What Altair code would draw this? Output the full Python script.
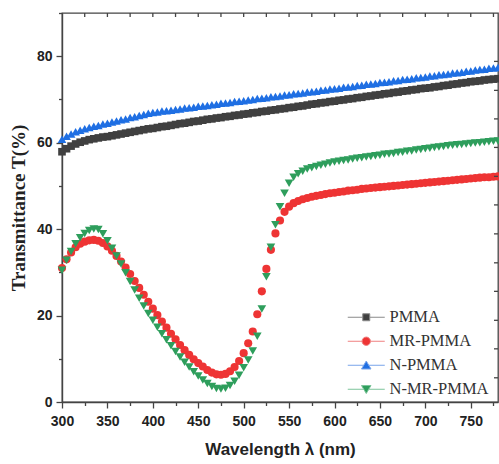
import altair as alt
import pandas as pd

# ---------------- data ----------------
WAVELENGTH = list(range(300, 785, 5))  # nm

PMMA = [57.9, 58.6, 59.2, 59.7, 60.1, 60.4, 60.7, 60.9, 61.1, 61.3,
        61.4, 61.6, 61.8, 62.0, 62.2, 62.4, 62.6, 62.8, 63.0, 63.2,
        63.3, 63.5, 63.7, 63.8, 64.0, 64.2, 64.4, 64.5, 64.7, 64.9,
        65.0, 65.2, 65.4, 65.5, 65.7, 65.8, 66.0, 66.1, 66.3, 66.4,
        66.6, 66.7, 66.9, 67.0, 67.2, 67.3, 67.5, 67.6, 67.8, 67.9,
        68.1, 68.2, 68.4, 68.5, 68.7, 68.9, 69.0, 69.2, 69.3, 69.5,
        69.6, 69.8, 69.9, 70.1, 70.2, 70.4, 70.5, 70.7, 70.8, 71.0,
        71.1, 71.3, 71.4, 71.6, 71.7, 71.9, 72.0, 72.2, 72.3, 72.5,
        72.6, 72.7, 72.9, 73.0, 73.2, 73.3, 73.5, 73.6, 73.8, 73.9,
        74.1, 74.2, 74.3, 74.5, 74.6, 74.7, 74.8]

MR_PMMA = [31.0, 33.0, 34.6, 35.8, 36.6, 37.1, 37.4, 37.5, 37.3, 36.8,
           36.0, 35.0, 33.8, 32.5, 31.1, 29.6, 28.0, 26.4, 24.8, 23.2,
           21.6, 20.1, 18.6, 17.2, 15.8, 14.5, 13.2, 12.0, 10.9, 9.9,
           9.0, 8.2, 7.4, 6.8, 6.4, 6.3, 6.5, 7.1, 8.1, 9.5,
           11.3, 13.6, 16.3, 20.3, 25.6, 30.8, 35.2, 39.0, 42.0, 44.0,
           45.2, 46.0, 46.5, 46.9, 47.2, 47.5, 47.7, 47.9, 48.1, 48.3,
           48.4, 48.6, 48.7, 48.9, 49.0, 49.1, 49.3, 49.4, 49.5, 49.6,
           49.7, 49.8, 49.9, 50.0, 50.1, 50.2, 50.3, 50.4, 50.5, 50.6,
           50.7, 50.8, 50.9, 51.0, 51.1, 51.2, 51.3, 51.4, 51.5, 51.6,
           51.7, 51.8, 51.9, 52.0, 52.0, 52.1, 52.2]

N_PMMA = [60.8, 61.5, 62.0, 62.5, 62.9, 63.2, 63.5, 63.8, 64.0, 64.3,
          64.5, 64.8, 65.0, 65.3, 65.5, 65.8, 66.0, 66.3, 66.5, 66.8,
          67.0, 67.1, 67.3, 67.4, 67.5, 67.7, 67.8, 68.0, 68.1, 68.2,
          68.4, 68.5, 68.6, 68.8, 68.9, 69.1, 69.2, 69.3, 69.5, 69.6,
          69.7, 69.9, 70.0, 70.2, 70.3, 70.4, 70.6, 70.7, 70.8, 71.0,
          71.1, 71.3, 71.4, 71.5, 71.7, 71.8, 71.9, 72.1, 72.2, 72.4,
          72.5, 72.6, 72.8, 72.9, 73.0, 73.2, 73.3, 73.5, 73.6, 73.7,
          73.9, 74.0, 74.1, 74.3, 74.4, 74.6, 74.7, 74.8, 75.0, 75.1,
          75.2, 75.4, 75.5, 75.7, 75.8, 75.9, 76.1, 76.2, 76.3, 76.5,
          76.6, 76.8, 76.9, 77.0, 77.2, 77.3, 77.4]

N_MR_PMMA = [30.5, 32.8, 34.8, 36.6, 38.0, 39.0, 39.7, 40.0, 39.9, 38.9,
             37.3, 35.6, 33.8, 31.9, 29.9, 27.9, 25.9, 24.0, 22.2, 20.5,
             18.9, 17.3, 15.8, 14.4, 13.0, 11.7, 10.4, 9.2, 8.1, 7.0,
             6.0, 5.1, 4.3, 3.6, 3.1, 3.0, 3.2, 3.8, 4.8, 6.2,
             7.9, 9.7, 11.8, 15.2, 21.5, 29.0, 35.8, 41.0, 45.2, 48.3,
             50.6, 52.0, 52.8, 53.4, 53.9, 54.2, 54.5, 54.8, 55.0, 55.3,
             55.5, 55.7, 55.9, 56.0, 56.2, 56.4, 56.5, 56.7, 56.8, 57.0,
             57.1, 57.3, 57.4, 57.5, 57.7, 57.8, 58.0, 58.1, 58.3, 58.4,
             58.6, 58.7, 58.9, 59.0, 59.1, 59.3, 59.4, 59.5, 59.6, 59.7,
             59.8, 59.9, 60.0, 60.1, 60.2, 60.3, 60.4]

SERIES = ["PMMA", "MR-PMMA", "N-PMMA", "N-MR-PMMA"]
VALUES = [PMMA, MR_PMMA, N_PMMA, N_MR_PMMA]

X_TICKS = list(range(300, 776, 25))
Y_TICKS = list(range(0, 91, 10))
TOP_TICKS = list(range(325, 776, 25))
RIGHT_TICKS = [78.8, 72.1, 65.5, 58.9, 52.2, 45.6, 38.9, 32.2, 25.6, 18.9, 12.3, 5.6]

# ---------------- styling ----------------
COLORS = ["#404040", "#ee3434", "#1f6fe3", "#2e9e5c"]
LEGEND_STROKES = ["#8a8a8a", "#f08080", "#78a4ea", "#7cc49a"]
SHAPES = ["square", "circle", "triangle-up", "triangle-down"]
SIZES = [58, 66, 75, 75]
LEGEND_PATHS = [
    "M-3.7,0H-0.7M0.7,0H3.7M-0.7,-0.7H0.7V0.7H-0.7Z",
    "M-3.7,0H-0.84M0.84,0H3.7M-0.84,0A0.84,0.84 0 1,0 0.84,0A0.84,0.84 0 1,0 -0.84,0Z",
    "M-3.7,0H-0.5M0.5,0H3.7M0,-0.85L0.95,0.75H-0.95Z",
    "M-3.7,0H-0.5M0.5,0H3.7M0,0.85L0.95,-0.75H-0.95Z",
]
FRAME = "#444444"

W, H = 436, 389

rows = []
for s, vals in zip(SERIES, VALUES):
    for w, v in zip(WAVELENGTH, vals):
        rows.append({"wl": w, "T": v, "series": s})
df = pd.DataFrame(rows)

top_df = pd.DataFrame({"wl": TOP_TICKS})
right_df = pd.DataFrame({"T": RIGHT_TICKS})

xs = alt.Scale(domain=[300, 780], nice=False, zero=False)
ys = alt.Scale(domain=[0, 90], nice=False, zero=False)

x_axis = alt.Axis(
    orient="bottom", values=X_TICKS, title="Wavelength λ (nm)",
    labelExpr="datum.value % 50 === 0 ? datum.label : ''",
    tickSize={"condition": {"test": "datum.value % 50 === 0", "value": 6}, "value": 3.5},
    labelPadding=6, labelFlush=False, labelOverlap=False,
    titleFont="Liberation Sans", titleFontSize=17, titleFontWeight="bold",
    titlePadding=13,
)
y_axis = alt.Axis(
    orient="left", values=Y_TICKS, title="Transmittance T(%)",
    labelExpr="datum.value % 20 === 0 ? datum.label : ''",
    tickSize={"condition": {"test": "datum.value % 20 === 0", "value": 6}, "value": 3.5},
    labelPadding=4, labelFlush=False, labelOverlap=False,
    titleFont="Liberation Serif", titleFontSize=19, titleFontWeight="bold",
    titlePadding=8,
)

layers = []
for i, (s, col, shp, sz) in enumerate(zip(SERIES, COLORS, SHAPES, SIZES)):
    layers.append(
        alt.Chart(df[df["series"] == s])
        .mark_point(shape=shp, filled=True, size=sz, opacity=1, color=col)
        .encode(
            x=alt.X("wl:Q", scale=xs, axis=x_axis if i == 0 else None),
            y=alt.Y("T:Q", scale=ys, axis=y_axis if i == 0 else None),
        )
    )

leg = alt.Legend(
    title=None, orient="none", legendX=296, legendY=296,
    symbolSize=100, symbolStrokeWidth=1, symbolOpacity=1,
    labelFont="Liberation Serif", labelFontSize=16.5, labelFontWeight="normal",
    labelColor="#333333", labelOffset=15, rowPadding=7, padding=0,
)
legend_layer = (
    alt.Chart(df)
    .mark_point(filled=True, opacity=1, size=0)
    .encode(
        x=alt.X("wl:Q", scale=xs, axis=None),
        y=alt.Y("T:Q", scale=ys, axis=None),
        color=alt.Color("series:N", scale=alt.Scale(domain=SERIES, range=COLORS), legend=leg),
        stroke=alt.Stroke("series:N", scale=alt.Scale(domain=SERIES, range=LEGEND_STROKES), legend=leg),
        shape=alt.Shape("series:N", scale=alt.Scale(domain=SERIES, range=LEGEND_PATHS), legend=leg),
    )
)

# inward ticks on the top and right frame edges (mirrored axes)
top_ticks = (
    alt.Chart(top_df)
    .mark_rule(color=FRAME, strokeWidth=1.3)
    .encode(
        x=alt.X("wl:Q", scale=xs, axis=None),
        y=alt.value(0),
        y2=alt.value(4),
    )
)
right_ticks = (
    alt.Chart(right_df)
    .mark_rule(color=FRAME, strokeWidth=1.3)
    .encode(
        y=alt.Y("T:Q", scale=ys, axis=None),
        x=alt.value(W),
        x2=alt.value(W - 4),
    )
)

chart = (
    alt.layer(*layers, legend_layer, top_ticks, right_ticks)
    .resolve_axis(x="independent", y="independent")
    .properties(
        width=W, height=H, autosize="none",
        padding={"left": 62, "top": 13, "right": 1, "bottom": 62},
        background="white",
    )
    .configure_view(stroke=FRAME, strokeWidth=1.3)
    .configure_axis(
        grid=False, domainColor=FRAME, domainWidth=1.4,
        tickColor=FRAME, tickWidth=1.3,
        labelFont="Liberation Sans", labelFontSize=14, labelFontWeight="bold",
        labelColor="#222222", titleColor="#222222",
    )
)

chart.save("out.html", embed_options={"renderer": "svg", "actions": False})
